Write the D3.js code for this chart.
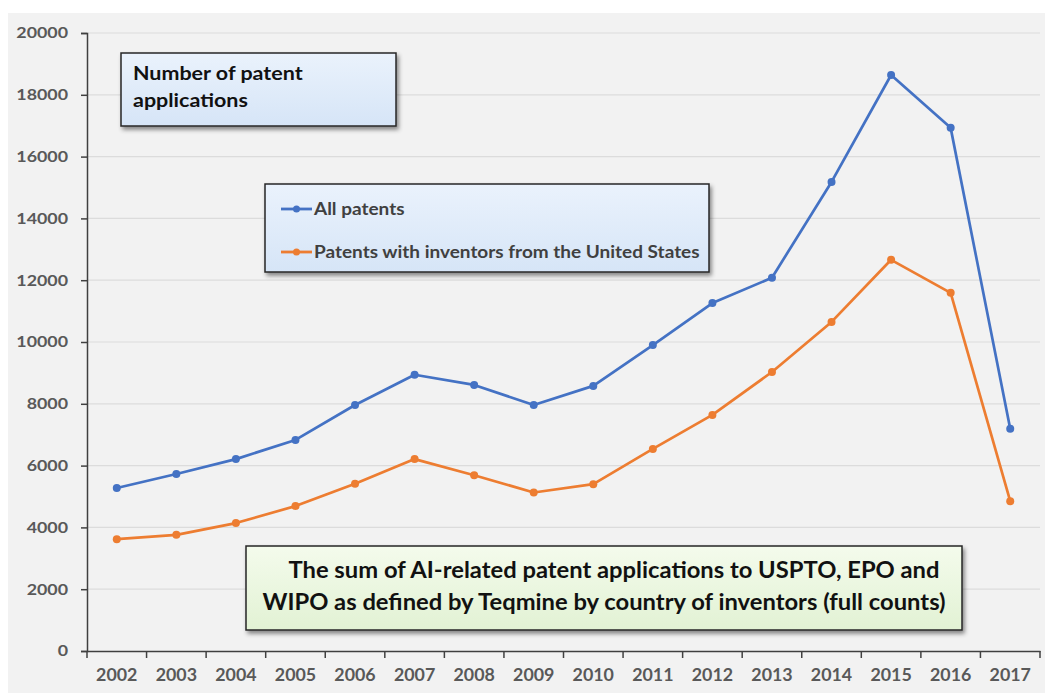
<!DOCTYPE html>
<html><head><meta charset="utf-8">
<script src="https://cdn.jsdelivr.net/npm/d3@7"></script>
<style>body{margin:0;background:#fff}svg{display:block}text{font-family:Lato,"Open Sans",sans-serif}</style>
</head><body>
<svg id="c" width="1045" height="693"></svg>
<script>
const years = ["2002","2003","2004","2005","2006","2007","2008","2009","2010","2011","2012","2013","2014","2015","2016","2017"];
const allPatents = [5275,5730,6210,6830,7960,8940,8610,7960,8580,9900,11260,12080,15180,18640,16930,7190];
const usPatents = [3620,3760,4140,4690,5410,6210,5690,5130,5400,6540,7640,9030,10650,12660,11590,4850];
const yTicks = [0,2000,4000,6000,8000,10000,12000,14000,16000,18000,20000];
const seriesNames = ["All patents","Patents with inventors from the United States"];
const colors = ["#4472c4","#ed7d31"];
const titleLines = ["Number of patent","applications"];
const noteLines = ["The sum of AI-related patent applications to USPTO, EPO and","WIPO as defined by Teqmine by country of inventors (full counts)"];

const svg = d3.select("#c");
const defs = svg.append("defs");
const f = defs.append("filter").attr("id","sh").attr("x","-10%").attr("y","-10%").attr("width","130%").attr("height","140%");
f.append("feDropShadow").attr("dx",2).attr("dy",3).attr("stdDeviation",2).attr("flood-color","#000").attr("flood-opacity",0.45);
const gb = defs.append("linearGradient").attr("id","gb").attr("x1",0).attr("y1",0).attr("x2",0).attr("y2",1);
gb.append("stop").attr("offset","0").attr("stop-color","#eaf2fc");
gb.append("stop").attr("offset","1").attr("stop-color","#d6e5f7");
const gg = defs.append("linearGradient").attr("id","gg").attr("x1",0).attr("y1",0).attr("x2",0).attr("y2",1);
gg.append("stop").attr("offset","0").attr("stop-color","#f4fbec");
gg.append("stop").attr("offset","1").attr("stop-color","#e2f2d4");

function stretch(sel, k){
  sel.each(function(){
    const w = this.getComputedTextLength();
    d3.select(this).attr("textLength", w*k).attr("lengthAdjust","spacingAndGlyphs");
  });
}

svg.append("rect").attr("x",8).attr("y",13).attr("width",1037).attr("height",680).attr("fill","#f2f2f2");

const x0 = 87, x1 = 1040, y0 = 651, y1 = 33;
const x = d3.scaleBand().domain(years).range([x0,x1]);
const y = d3.scaleLinear().domain([0,20000]).range([y0,y1]);

// gridlines
svg.append("g").selectAll("line").data(yTicks.filter(d=>d>0)).join("line")
  .attr("x1",x0).attr("x2",x1).attr("y1",d=>y(d)).attr("y2",d=>y(d))
  .attr("stroke","#dcdcdc").attr("stroke-width",1.2);

// y axis
const ya = svg.append("g").attr("transform",`translate(${x0},0)`)
  .call(d3.axisLeft(y).tickValues(yTicks).tickSize(6).tickPadding(13).tickFormat(d3.format("d")));
ya.select(".domain").attr("stroke","#404040").attr("stroke-width",1.5);
ya.selectAll(".tick line").attr("stroke","#404040").attr("stroke-width",1.5);
ya.selectAll("text").attr("font-size",15.5).attr("font-weight","bold").attr("fill","#595959").style("font-family","Lato,'Open Sans',sans-serif");
stretch(ya.selectAll("text"), 1.15);

// x axis
const xa = svg.append("g").attr("transform",`translate(0,${y0})`)
  .call(d3.axisBottom(x).tickSize(0).tickPadding(18));
xa.select(".domain").attr("stroke","#404040").attr("stroke-width",1.5);
xa.selectAll("text").attr("font-size",16.5).attr("font-weight","bold").attr("fill","#595959").style("font-family","Lato,'Open Sans',sans-serif");
stretch(xa.selectAll("text"), 1.08);
svg.append("g").selectAll("line").data(years.map(d=>x(d)).concat([x1])).join("line")
  .attr("x1",d=>d).attr("x2",d=>d).attr("y1",y0).attr("y2",y0+7).attr("stroke","#404040").attr("stroke-width",1.5);

// lines
const cx = d=>x(d)+x.bandwidth()/2;
[allPatents, usPatents].forEach((vals,i)=>{
  const line = d3.line().x((d,j)=>cx(years[j])).y(d=>y(d));
  svg.append("path").datum(vals).attr("d",line).attr("fill","none").attr("stroke",colors[i]).attr("stroke-width",2.7).attr("stroke-linejoin","round");
  svg.append("g").selectAll("circle").data(vals).join("circle")
    .attr("cx",(d,j)=>cx(years[j])).attr("cy",d=>y(d)).attr("r",4).attr("fill",colors[i]);
});

// title box
svg.append("rect").attr("x",121).attr("y",53).attr("width",275).attr("height",73).attr("fill","url(#gb)").attr("stroke","#262626").attr("stroke-width",1.5).attr("filter","url(#sh)");
const tt = svg.append("g").selectAll("text").data(titleLines).join("text")
  .attr("x",133).attr("y",(d,i)=>80+i*27).text(d=>d).attr("font-size",19).attr("font-weight","bold").attr("fill","#111");
stretch(tt, 1.13);

// legend box
svg.append("rect").attr("x",265).attr("y",184).attr("width",444).attr("height",88).attr("fill","url(#gb)").attr("stroke","#262626").attr("stroke-width",1.5).attr("filter","url(#sh)");
const lg = svg.append("g").selectAll("g").data(seriesNames).join("g").attr("transform",(d,i)=>`translate(281,${209+i*43})`);
lg.append("line").attr("x1",0).attr("x2",31).attr("stroke",(d,i)=>colors[i]).attr("stroke-width",2.8);
lg.append("circle").attr("cx",15.5).attr("r",3.5).attr("fill",(d,i)=>colors[i]);
const lt = lg.append("text").attr("x",33).attr("y",6).text(d=>d).attr("font-size",16.5).attr("font-weight","bold").attr("fill","#404040");
stretch(lt, 1.15);

// note box
svg.append("rect").attr("x",246).attr("y",546).attr("width",716).attr("height",84).attr("fill","url(#gg)").attr("stroke","#262626").attr("stroke-width",1.5).attr("filter","url(#sh)");
const nt = svg.append("g").selectAll("text").data(noteLines).join("text")
  .attr("x",(d,i)=>i===0?614:604).attr("y",(d,i)=>578+i*32).attr("text-anchor","middle").text(d=>d)
  .attr("font-size",22).attr("font-weight","bold").attr("fill","#111");
stretch(nt, 1.08);
</script>
</body></html>
